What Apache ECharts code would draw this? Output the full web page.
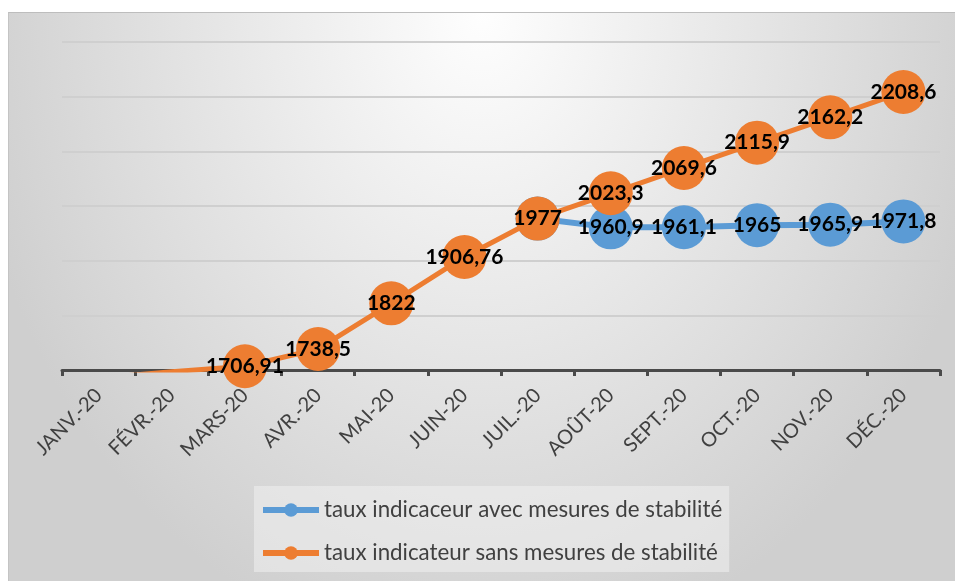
<!DOCTYPE html>
<html>
<head>
<meta charset="utf-8">
<script src="https://cdn.jsdelivr.net/npm/echarts@6/dist/echarts.min.js"></script>
<style>
  html, body { margin: 0; padding: 0; background: #ffffff; }
  #frame {
    position: absolute; left: 8px; top: 12px; width: 946px; height: 568px;
    border-top: 1px solid #bdbdbd; border-left: 1px solid #c4c4c4;
    background: radial-gradient(ellipse 520px 650px at 50% 0%, #fefefe 0%, #cfcfcf 100%);
  }
  #chart { position: absolute; left: 0; top: 0; width: 955px; height: 581px; }
</style>
</head>
<body>
<div id="frame"></div>
<div id="chart"></div>
<script>
const categories = ['JANV.-20', 'FÉVR.-20', 'MARS-20', 'AVR.-20', 'MAI-20', 'JUIN-20', 'JUIL.-20', 'AOÛT-20', 'SEPT.-20', 'OCT.-20', 'NOV.-20', 'DÉC.-20'];
const withMeasures = [null, null, null, null, null, null, 1977, 1960.9, 1961.1, 1965, 1965.9, 1971.8];
const withoutMeasures = [1685, 1697, 1706.91, 1738.5, 1822, 1906.76, 1977, 2023.3, 2069.6, 2115.9, 2162.2, 2208.6];
const seriesNames = ['taux indicaceur avec mesures de stabilité', 'taux indicateur sans mesures de stabilité'];
const yMin = 1700, yMax = 2300, yStep = 100;

const fmt = v => String(v).replace('.', ',');

function buildData(values, hiddenLabelIdx) {
  return values.map((v, i) => {
    if (v === null) return null;
    if (v < yMin) return { value: v, symbol: 'none', label: { show: false } };
    if (hiddenLabelIdx.indexOf(i) >= 0) return { value: v, label: { show: false } };
    return v;
  });
}

const labelStyle = {
  show: true,
  position: 'inside',
  color: '#000000',
  fontFamily: 'Lato',
  fontWeight: 'bold',
  fontSize: 21,
  formatter: p => fmt(p.value)
};

const chart = echarts.init(document.getElementById('chart'));
chart.setOption({
  backgroundColor: 'transparent',
  animation: false,
  grid: { left: 62, right: 15, top: 42, bottom: 211 },
  legend: {
    orient: 'vertical',
    left: 254,
    top: 486,
    backgroundColor: 'rgba(240,240,240,0.55)',
    padding: [13, 7, 8, 6],
    itemGap: 21,
    itemWidth: 56,
    itemHeight: 17,
    lineStyle: { width: 6 },
    textStyle: { color: '#404040', fontFamily: 'Lato', fontSize: 22.3, lineHeight: 22 },
    data: seriesNames
  },
  xAxis: {
    type: 'category',
    data: categories,
    boundaryGap: true,
    axisLine: { lineStyle: { color: '#4a4a4a', width: 3 } },
    axisTick: { show: true, length: 6, lineStyle: { color: '#4a4a4a', width: 3 } },
    axisLabel: { rotate: 45, margin: 22, padding: [25, 0, 0, 0], color: '#404040', fontFamily: 'Lato', fontSize: 20, interval: 0 },
    splitLine: { show: false }
  },
  yAxis: {
    type: 'value',
    min: yMin, max: yMax, interval: yStep,
    axisLabel: { show: false },
    axisLine: { show: false },
    axisTick: { show: false },
    splitLine: { lineStyle: { color: '#cfcfcf', width: 2 } }
  },
  series: [
    {
      name: seriesNames[0],
      type: 'line',
      data: buildData(withMeasures, [6]),
      symbol: 'circle',
      symbolSize: 44,
      lineStyle: { color: '#5B9BD5', width: 6 },
      itemStyle: { color: '#5B9BD5' },
      label: labelStyle,
      z: 2
    },
    {
      name: seriesNames[1],
      type: 'line',
      data: buildData(withoutMeasures, []),
      symbol: 'circle',
      symbolSize: 44,
      lineStyle: { color: '#ED7D31', width: 5 },
      itemStyle: { color: '#ED7D31' },
      label: labelStyle,
      z: 3
    }
  ]
});
</script>
</body>
</html>
